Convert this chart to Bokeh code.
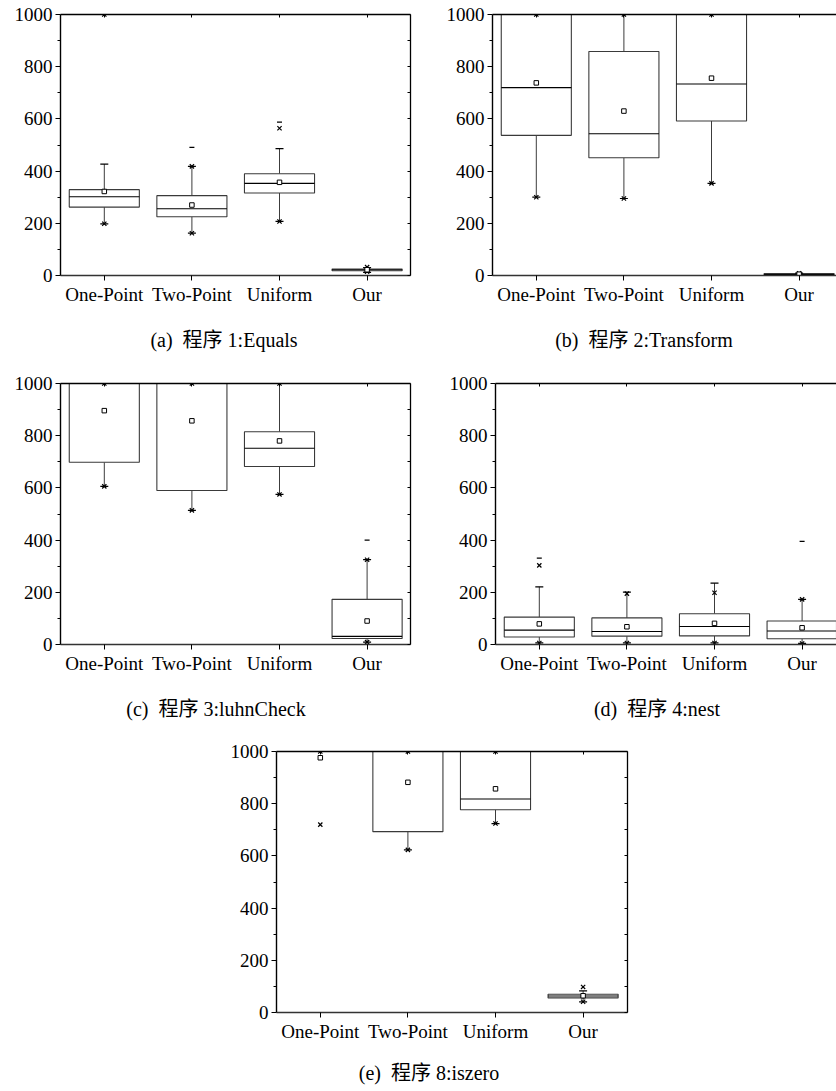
from bokeh.plotting import figure
from bokeh.models import Range1d, FixedTicker, LinearAxis, ColumnDataSource, Div, Spacer
from bokeh.layouts import column, row
from bokeh.embed import file_html
from bokeh.resources import INLINE

NaN = float("nan")
categories = ["One-Point", "Two-Point", "Uniform", "Our"]
y_ticks = [0, 200, 400, 600, 800, 1000]
y_minor = [100, 300, 500, 700, 900]

# (a) 程序 1:Equals
a_q1 = [262, 225, 316, 18]
a_med = [302, 256, 353, 22]
a_q3 = [329, 306, 390, 25]
a_mean = [322, 270, 357, 22]
a_wlo = [198, 162, 207, 12]
a_whi = [427, 418, 486, 30]
a_p1 = [198, 162, 207, 15]
a_p99 = [1000, 418, 564, 32]
a_max = [NaN, 491, 588, NaN]

# (b) 程序 2:Transform
b_q1 = [537, 451, 592, 2]
b_med = [720, 543, 734, 4]
b_q3 = [1000, 858, 1000, 7]
b_mean = [738, 630, 756, 5]
b_wlo = [300, 295, 353, 0]
b_whi = [1000, 1000, 1000, 9]
b_p1 = [300, 295, 353, 3]
b_p99 = [1000, 1000, 1000, 8]
b_max = [NaN, NaN, NaN, NaN]

# (c) 程序 3:luhnCheck
c_q1 = [698, 590, 682, 23]
c_med = [1000, 1000, 752, 31]
c_q3 = [1000, 1000, 815, 173]
c_mean = [896, 857, 780, 90]
c_wlo = [606, 514, 575, 9]
c_whi = [1000, 1000, 1000, 325]
c_p1 = [606, 514, 575, 9]
c_p99 = [1000, 1000, 1000, 325]
c_max = [NaN, NaN, NaN, 400]

# (d) 程序 4:nest
d_q1 = [29, 32, 33, 22]
d_med = [55, 50, 69, 52]
d_q3 = [105, 102, 118, 90]
d_mean = [79, 68, 81, 64]
d_wlo = [6, 6, 6, 4]
d_whi = [221, 201, 235, 173]
d_p1 = [6, 6, 6, 4]
d_p99 = [303, 195, 198, 173]
d_max = [331, NaN, NaN, 395]

# (e) 程序 8:iszero
e_q1 = [1000, 693, 777, 56]
e_med = [1000, 1000, 818, 63]
e_q3 = [1000, 1000, 1000, 70]
e_mean = [976, 882, 857, 64]
e_wlo = [1000, 623, 724, 41]
e_whi = [1000, 1000, 1000, 83]
e_p1 = [720, 623, 724, 41]
e_p99 = [1000, 1000, 1000, 98]
e_max = [NaN, NaN, NaN, NaN]

captions = ["(a)&nbsp; 程序 1:Equals", "(b)&nbsp; 程序 2:Transform", "(c)&nbsp; 程序 3:luhnCheck",
            "(d)&nbsp; 程序 4:nest", "(e)&nbsp; 程序 8:iszero"]

FONT = "Liberation Serif"
FRAME_H = 261
BOX_W = 0.8
PITCH = 87.6


def make_panel(q1, med, q3, mean, wlo, whi, p1, p99, mx,
               border_left, frame_w, border_right, border_top, border_bottom, right_axis):
    xs = list(range(1, len(categories) + 1))
    x_end = 0.5 + frame_w / PITCH
    p = figure(output_backend="svg", toolbar_location=None,
               frame_width=frame_w, frame_height=FRAME_H,
               x_range=Range1d(0.5, x_end), y_range=Range1d(0, 1000),
               min_border_left=border_left, min_border_right=border_right,
               min_border_top=border_top, min_border_bottom=border_bottom,
               outline_line_color=None, background_fill_color="white",
               border_fill_color="white")
    p.xgrid.visible = False
    p.ygrid.visible = False

    src = ColumnDataSource(dict(x=xs, q1=q1, med=med, q3=q3, mean=mean,
                                wlo=wlo, whi=whi, p1=p1, p99=p99, mx=mx))
    # whiskers
    p.segment(x0="x", y0="q3", x1="x", y1="whi", source=src, line_color="#3c3c3c", line_width=1)
    p.segment(x0="x", y0="wlo", x1="x", y1="q1", source=src, line_color="#3c3c3c", line_width=1)
    # boxes
    p.vbar(x="x", width=BOX_W, bottom="q1", top="q3", source=src,
           fill_color="white", line_color="#3a3a3a", line_width=1.1)
    p.vbar(x="x", width=BOX_W, bottom="med", top="med", source=src,
           fill_color=None, line_color="black", line_width=1.1)
    # whisker caps
    p.scatter(x="x", y="wlo", source=src, marker="dash", size=8, line_color="black", line_width=1.2)
    p.scatter(x="x", y="whi", source=src, marker="dash", size=8, line_color="black", line_width=1.2)
    # 1% / 99% markers
    p.scatter(x="x", y="p1", source=src, marker="x", size=6, line_color="black", line_width=1.2)
    p.scatter(x="x", y="p99", source=src, marker="x", size=6, line_color="black", line_width=1.2)
    # max markers
    p.scatter(x="x", y="mx", source=src, marker="dash", size=5, line_color="black", line_width=1.2)
    # mean
    p.scatter(x="x", y="mean", source=src, marker="square", size=4.5,
              fill_color="white", line_color="black", line_width=1)

    # left axis
    ya = p.yaxis[0]
    ya.ticker = FixedTicker(ticks=y_ticks, minor_ticks=y_minor)
    ya.major_tick_out = 5
    ya.major_tick_in = 0
    ya.minor_tick_out = 3
    ya.minor_tick_in = 0
    ya.major_label_standoff = 3
    ya.axis_line_width = 1.4
    ya.axis_line_color = "black"
    ya.major_tick_line_color = "black"
    ya.minor_tick_line_color = "black"
    ya.major_label_text_font = FONT
    ya.major_label_text_font_size = "19px"
    ya.major_label_text_color = "black"

    # bottom axis
    xa = p.xaxis[0]
    xa.ticker = FixedTicker(ticks=xs, minor_ticks=[])
    xa.major_label_overrides = {i + 1: c for i, c in enumerate(categories)}
    xa.major_tick_out = 5
    xa.major_tick_in = 0
    xa.major_label_standoff = 3
    xa.axis_line_width = 1.6
    xa.axis_line_color = "#333333"
    xa.major_tick_line_color = "black"
    xa.major_label_text_font = FONT
    xa.major_label_text_font_size = "19px"
    xa.major_label_text_color = "black"

    # top border with inward ticks
    ta = LinearAxis(ticker=FixedTicker(ticks=xs, minor_ticks=[]))
    ta.major_tick_in = 3
    ta.major_tick_out = 0
    ta.major_label_text_color = None
    ta.major_label_text_font_size = "1px"
    ta.major_label_standoff = 0
    ta.axis_line_width = 1.3
    ta.axis_line_color = "black"
    p.add_layout(ta, "above")

    if right_axis:
        ra = LinearAxis(ticker=FixedTicker(ticks=list(range(0, 1001, 100)), minor_ticks=[]))
        ra.major_tick_in = 3
        ra.major_tick_out = 0
        ra.major_label_text_color = None
        ra.major_label_text_font_size = "1px"
        ra.major_label_standoff = 0
        ra.axis_line_width = 1.3
        ra.axis_line_color = "black"
        p.add_layout(ra, "right")
    return p


def caption(text):
    return Div(text=text, width=300, height=26, margin=0,
               styles={"font-family": "'Liberation Serif', 'Noto Sans CJK SC', serif",
                       "font-size": "20px", "line-height": "26px", "text-align": "center",
                       "color": "black", "white-space": "nowrap"})


pa = make_panel(a_q1, a_med, a_q3, a_mean, a_wlo, a_whi, a_p1, a_p99, a_max,
                60, 350, 8, 14, 52, True)
pb = make_panel(b_q1, b_med, b_q3, b_mean, b_wlo, b_whi, b_p1, b_p99, b_max,
                74, 344, 0, 14, 52, False)
pc = make_panel(c_q1, c_med, c_q3, c_mean, c_wlo, c_whi, c_p1, c_p99, c_max,
                60, 350, 8, 30, 52, True)
pd = make_panel(d_q1, d_med, d_q3, d_mean, d_wlo, d_whi, d_p1, d_p99, d_max,
                77, 341, 0, 30, 52, False)
pe = make_panel(e_q1, e_med, e_q3, e_mean, e_wlo, e_whi, e_p1, e_p99, e_max,
                276, 351, 8, 29, 48, True)

cap1 = row(Spacer(width=74, height=26, margin=0), caption(captions[0]),
           Spacer(width=120, height=26, margin=0), caption(captions[1]))
cap2 = row(Spacer(width=66, height=26, margin=0), caption(captions[2]),
           Spacer(width=141, height=26, margin=0), caption(captions[3]))
cap3 = row(Spacer(width=279, height=26, margin=0), caption(captions[4]))

layout = column(row(pa, pb), cap1, row(pc, pd), cap2, pe, cap3)
open("out.html", "w").write(file_html(layout, INLINE))
